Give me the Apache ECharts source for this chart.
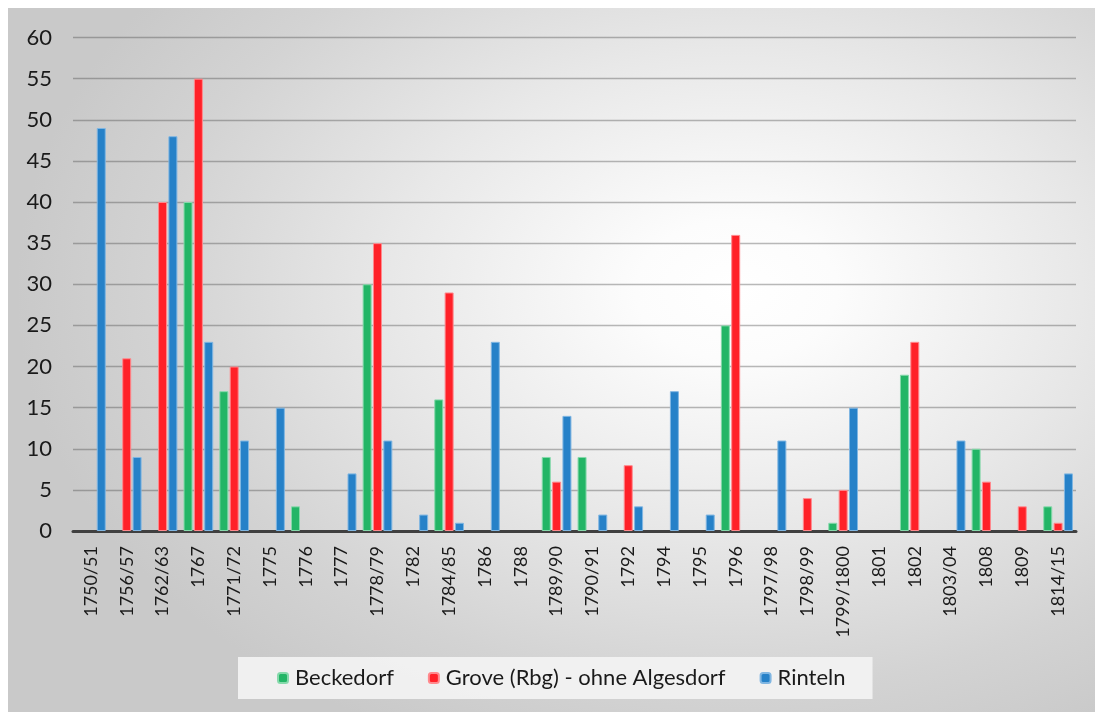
<!DOCTYPE html>
<html>
<head>
<meta charset="utf-8">
<script src="https://cdn.jsdelivr.net/npm/echarts@6/dist/echarts.min.js"></script>
<style>
  html, body { margin: 0; padding: 0; background: #ffffff; }
  #panel {
    position: absolute; left: 8px; top: 8px; width: 1087px; height: 704px;
    background:
      radial-gradient(ellipse 720px 500px at 67% 40%, #ffffff 0%, #fcfcfc 14%, #e8e8e8 48%, #d3d3d3 80%, #c9c9c9 100%);
  }
  #chart { position: absolute; left: 0; top: 0; width: 1095px; height: 712px; }
</style>
</head>
<body>
<div id="panel"></div>
<div id="chart"></div>
<script>
// Years / seasons on the category axis
const categories = [
  '1750/51', '1756/57', '1762/63', '1767', '1771/72', '1775', '1776', '1777',
  '1778/79', '1782', '1784/85', '1786', '1788', '1789/90', '1790/91', '1792',
  '1794', '1795', '1796', '1797/98', '1798/99', '1799/1800', '1801', '1802',
  '1803/04', '1808', '1809', '1814/15'
];

// Counts per place (null = no entry for that year)
const beckedorf = [null, null, null, 40, 17, null, 3, null, 30, null, 16, null, null, 9, 9, null,
                   null, null, 25, null, null, 1, null, 19, null, 10, null, 3];
const grove = [null, 21, 40, 55, 20, null, null, null, 35, null, 29, null, null, 6, null, 8,
               null, null, 36, null, 4, 5, null, 23, null, 6, 3, 1];
const rinteln = [49, 9, 48, 23, 11, 15, null, 7, 11, 2, 1, 23, null, 14, 2, 3,
                 17, 2, null, 11, null, 15, null, null, 11, null, null, 7];

const seriesNames = ['Beckedorf', 'Grove (Rbg) - ohne Algesdorf', 'Rinteln'];

// Value axis range
const yMin = 0, yMax = 60, yStep = 5;

const FONT = 'Lato, "Open Sans", sans-serif';

function barSeries(name, data, fill, edge) {
  return {
    name: name,
    type: 'bar',
    data: data,
    barWidth: 9,
    barGap: '15%',
    itemStyle: { color: fill, borderColor: edge, borderWidth: 1 },
    emphasis: { disabled: true }
  };
}

const chart = echarts.init(document.getElementById('chart'), null, { renderer: 'canvas' });
chart.setOption({
  backgroundColor: 'transparent',
  animation: false,
  textStyle: { fontFamily: FONT },
  grid: { left: 73, right: 19, top: 37.5, bottom: 181, containLabel: false },
  legend: {
    data: seriesNames,
    left: 238,
    top: 657,
    padding: [10, 27, 10, 39],
    itemGap: 34,
    itemWidth: 10,
    itemHeight: 10,
    backgroundColor: 'rgba(244,244,244,0.9)',
    textStyle: { fontFamily: FONT, fontSize: 22, color: '#1a1a1a', padding: [0, 0, 0, 2] },
    selectedMode: false
  },
  xAxis: {
    type: 'category',
    data: categories,
    axisLine: { show: true, lineStyle: { color: '#404040', width: 3 } },
    axisTick: { show: false },
    axisLabel: {
      rotate: 90,
      interval: 0,
      margin: 15,
      fontFamily: FONT,
      fontSize: 18,
      color: '#1a1a1a'
    },
    splitLine: { show: false }
  },
  yAxis: {
    type: 'value',
    min: yMin,
    max: yMax,
    interval: yStep,
    axisLine: { show: false },
    axisTick: { show: false },
    axisLabel: { margin: 21, fontFamily: FONT, fontSize: 22, color: '#1a1a1a' },
    splitLine: { lineStyle: { color: 'rgba(70,70,70,0.38)', width: 1.3 } }
  },
  series: [
    barSeries(seriesNames[0], beckedorf, '#23B566', '#86D9AB'),
    barSeries(seriesNames[1], grove, '#FF2128', '#FF8A8E'),
    barSeries(seriesNames[2], rinteln, '#2681C8', '#80B6E2')
  ]
});
</script>
</body>
</html>
